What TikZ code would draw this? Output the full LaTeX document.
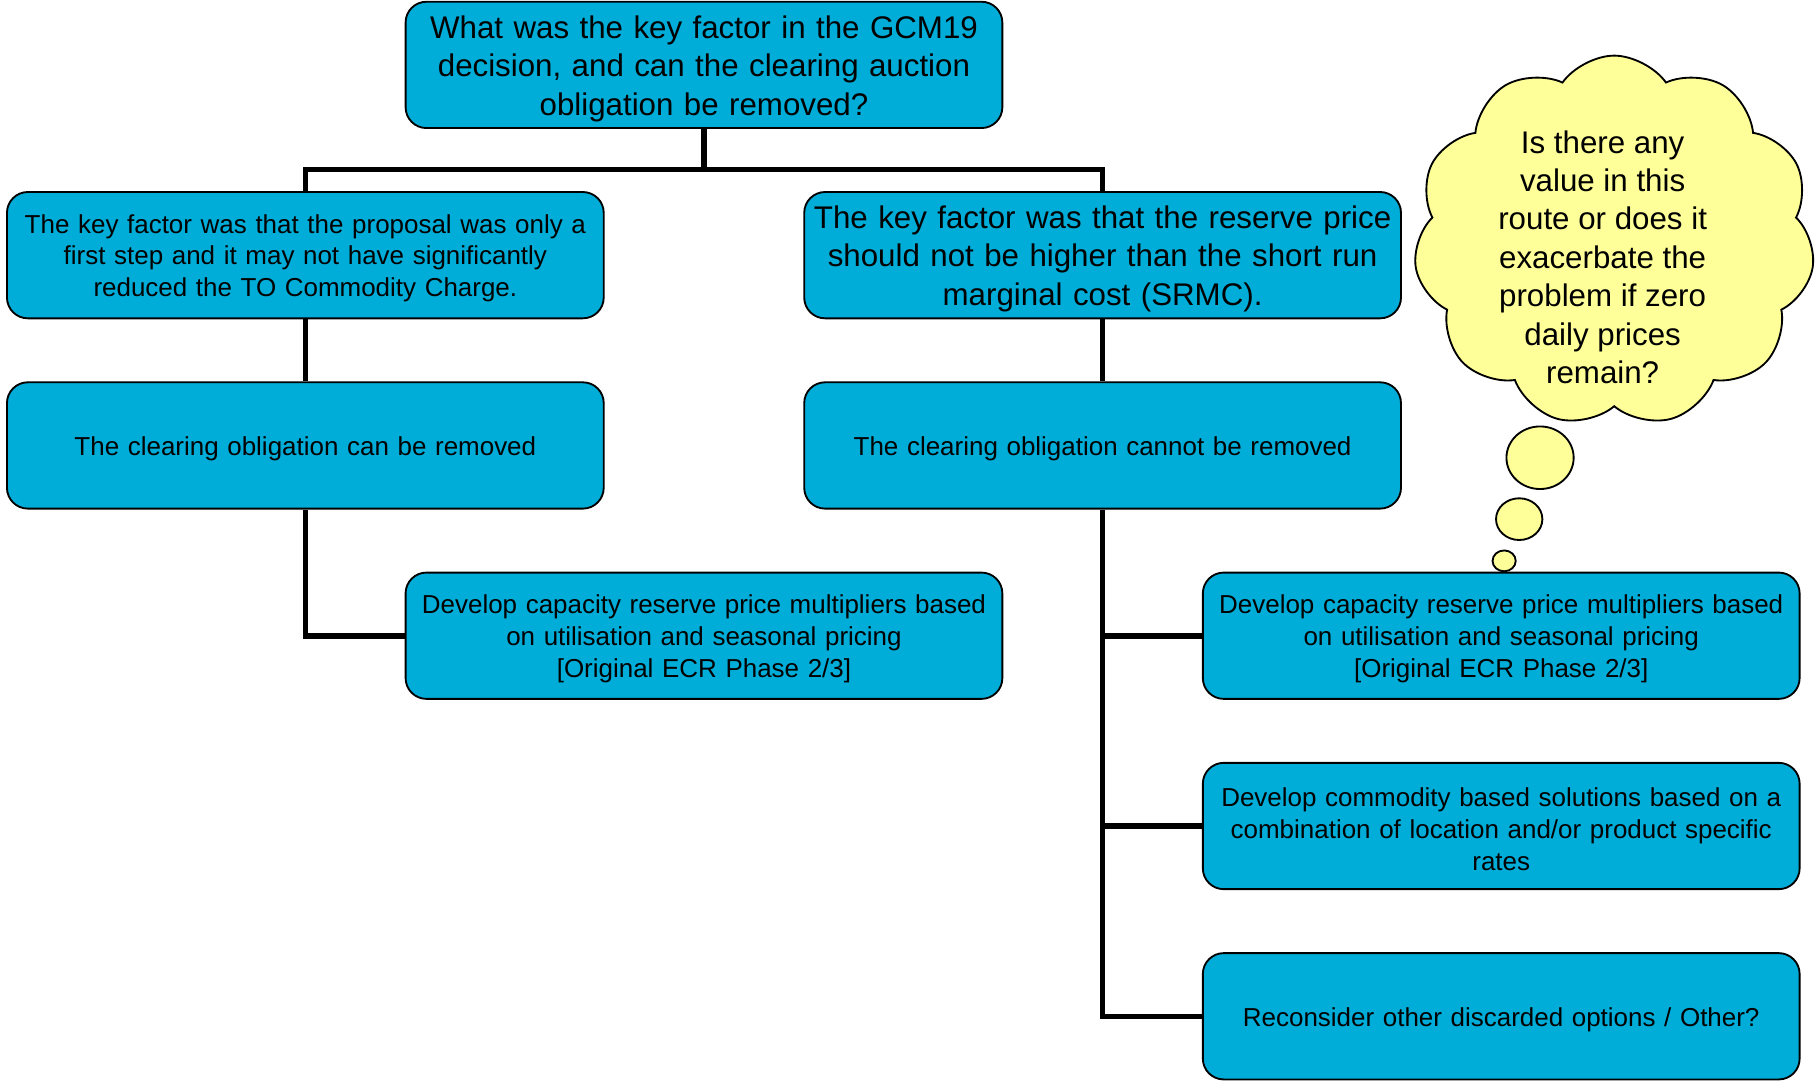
\documentclass[tikz,border=0pt]{standalone}
\usepackage{fontspec}
\setmainfont{Liberation Sans}
\usetikzlibrary{positioning,shapes.symbols,shapes.geometric}
\definecolor{boxblue}{RGB}{0,173,216}
\definecolor{thinkyellow}{RGB}{255,255,153}
\newcommand{\smalltxt}{\fontsize{11.2}{13.75}\selectfont}
\newcommand{\bigtxt}{\fontsize{13.5}{16.6}\selectfont}

\begin{document}
\begin{tikzpicture}[x=0.5pt,y=-0.5pt,
	qbox/.style={rectangle,rounded corners=9pt,draw=black,line width=0.8pt,fill=boxblue,minimum width=257.5pt,minimum height=54.5pt,text width=255pt,align=center,inner sep=1pt,execute at begin node={\rule{0pt}{0.96em}}},
	link/.style={draw=black,line width=2.4pt},
	thought/.style={cloud,cloud puffs=11,cloud puff arc=110,aspect=1.08,draw=black,line width=0.8pt,fill=thinkyellow,minimum width=173pt,minimum height=160pt,inner sep=0pt},
	bubble/.style={ellipse,draw=black,line width=0.8pt,fill=thinkyellow,inner sep=0pt},
	node distance = 26.8pt]
		\useasboundingbox (0,0) rectangle (1568,932);
		\node[qbox,font=\bigtxt] (q) at (607.5,56) {What was the key factor in the GCM19\\decision, and can the clearing auction\\obligation be removed?};
		\node[qbox,font=\smalltxt] (k1)[below = of q, xshift=-172pt]{The key factor was that the proposal was only a\\first step and it may not have significantly\\reduced the TO Commodity Charge.};
		\node[qbox,font=\bigtxt] (k2)[below = of q, xshift=172pt]{The key factor was that the reserve price\\should not be higher than the short run\\marginal cost (SRMC).};
		\node[qbox,font=\smalltxt] (c1)[below = of k1]{The clearing obligation can be removed};
		\node[qbox,font=\smalltxt] (c2)[below = of k2]{The clearing obligation cannot be removed};
		\node[qbox,font=\smalltxt] (d1)[below = of c1, xshift=172pt]{Develop capacity reserve price multipliers based\\on utilisation and seasonal pricing\\{[Original ECR Phase 2/3]}};
		\node[qbox,font=\smalltxt] (r1)[below = of c2, xshift=172pt]{Develop capacity reserve price multipliers based\\on utilisation and seasonal pricing\\{[Original ECR Phase 2/3]}};
		\node[qbox,font=\smalltxt] (r2)[below = of r1]{Develop commodity based solutions based on a\\combination of location and/or product specific\\rates};
		\node[qbox,font=\smalltxt] (r3)[below = of r2]{Reconsider other discarded options / Other?};
		\draw[link] (q.south) -- ++(0,-17.5pt) -| (k1.north);
		\draw[link] (q.south) -- ++(0,-17.5pt) -| (k2.north);
		\draw[link] (k1) -- (c1);
		\draw[link] (k2) -- (c2);
		\draw[link] (c1.south) |- (d1.west);
		\draw[link] (c2.south) |- (r1.west);
		\draw[link] (c2.south) |- (r2.west);
		\draw[link] (c2.south) |- (r3.west);
		\node[thought] (idea) at (1393,208) {};
		\node[font=\bigtxt,align=center] (ideatext) at (1383,222) {Is there any\\value in this\\route or does it\\exacerbate the\\problem if zero\\daily prices\\remain?};
		\node[bubble,minimum width=29pt,minimum height=27pt] (b1) at (1329,395) {};
		\node[bubble,minimum width=20pt,minimum height=18pt] (b2) at (1311,448) {};
		\node[bubble,minimum width=10pt,minimum height=9pt] (b3) at (1298,484) {};
	\end{tikzpicture}
\end{document}
